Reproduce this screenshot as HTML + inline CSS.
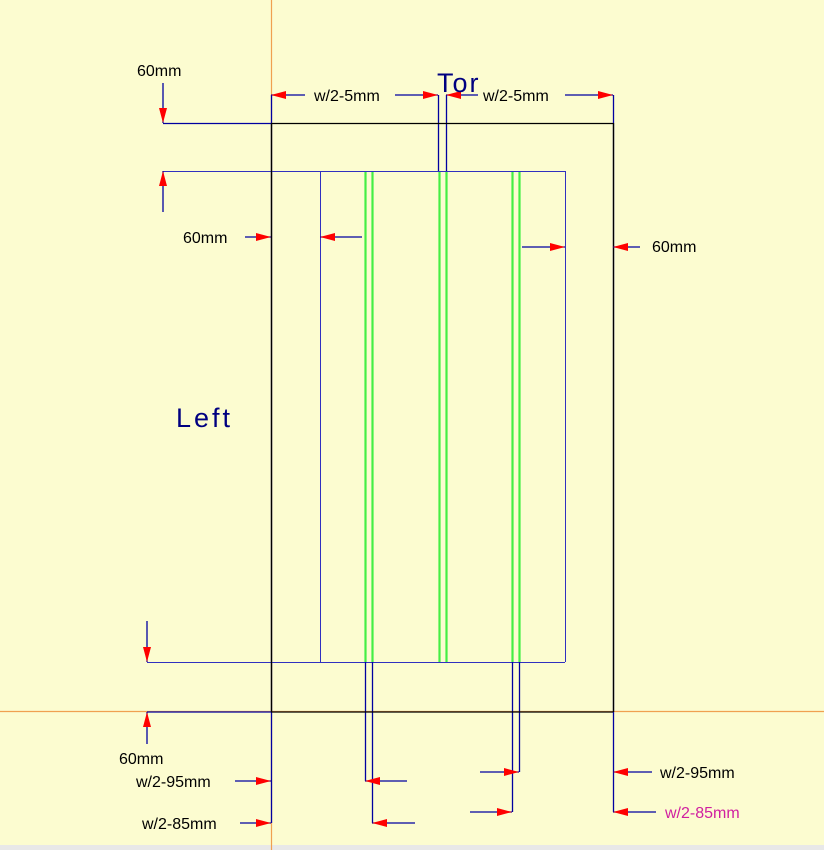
<!DOCTYPE html>
<html><head><meta charset="utf-8"><style>
html,body{margin:0;padding:0;background:#fcfcd0;}
svg{display:block;}
text{font-family:"Liberation Sans",sans-serif;font-size:16px;fill:#000;}
</style></head><body>
<svg width="824" height="850" viewBox="0 0 824 850" xmlns="http://www.w3.org/2000/svg">
<defs>
<marker id="a" markerWidth="16" markerHeight="10" refX="15" refY="5" orient="auto" markerUnits="userSpaceOnUse">
<polygon points="0,1 15,5 0,9" fill="#ff0000"/></marker>
</defs>
<rect width="824" height="850" fill="#fcfcd0"/>
<rect y="845" width="824" height="5" fill="#e8e8e8"/>
<line x1="271.5" y1="0" x2="271.5" y2="850" stroke="#f0a050" stroke-width="1.2"/>
<line x1="0" y1="711.5" x2="824" y2="711.5" stroke="#f0a050" stroke-width="1.2"/>
<g stroke="#0000a0" stroke-width="1.3" fill="none">
<line x1="271.5" y1="95" x2="271.5" y2="823"/>
<line x1="163" y1="123.5" x2="271" y2="123.5"/>
<line x1="613.5" y1="95" x2="613.5" y2="812"/>
<line x1="163" y1="171.5" x2="565" y2="171.5" stroke="#3030c0" stroke-width="1"/>
<line x1="147" y1="662.5" x2="565" y2="662.5" stroke="#3030c0" stroke-width="1"/>
<line x1="320.5" y1="171" x2="320.5" y2="662" stroke="#3030c0" stroke-width="1"/>
<line x1="565.5" y1="171" x2="565.5" y2="662" stroke="#3030c0" stroke-width="1"/>
<line x1="147" y1="712" x2="271" y2="712"/>
<line x1="438.5" y1="95" x2="438.5" y2="171"/>
<line x1="446.5" y1="95" x2="446.5" y2="171"/>
<line x1="365.5" y1="662" x2="365.5" y2="781"/>
<line x1="372.5" y1="662" x2="372.5" y2="823"/>
<line x1="519.5" y1="662" x2="519.5" y2="772"/>
<line x1="512.5" y1="662" x2="512.5" y2="812"/>
</g>
<g stroke="#000" stroke-width="1.3">
<line x1="271" y1="123.5" x2="613" y2="123.5"/>
<line x1="271" y1="712" x2="613" y2="712"/>
<line x1="271.5" y1="123" x2="271.5" y2="712"/>
<line x1="613.5" y1="123" x2="613.5" y2="712"/>
</g>
<g stroke="#44ee44" stroke-width="2.2">
<line x1="365.5" y1="172" x2="365.5" y2="662"/>
<line x1="372.5" y1="172" x2="372.5" y2="662"/>
<line x1="439.5" y1="172" x2="439.5" y2="662"/>
<line x1="446.5" y1="172" x2="446.5" y2="662"/>
<line x1="512.5" y1="172" x2="512.5" y2="662"/>
<line x1="519.5" y1="172" x2="519.5" y2="662"/>
</g>
<g stroke="#0000a0" stroke-width="1.3" marker-end="url(#a)">
<line x1="305" y1="95" x2="271" y2="95"/>
<line x1="395" y1="95" x2="438" y2="95"/>
<line x1="478" y1="95" x2="446" y2="95"/>
<line x1="565" y1="95" x2="613" y2="95"/>
<line x1="163" y1="83" x2="163" y2="123"/>
<line x1="163" y1="212" x2="163" y2="171"/>
<line x1="245" y1="237" x2="271" y2="237"/>
<line x1="362" y1="237" x2="320" y2="237"/>
<line x1="522" y1="247" x2="565" y2="247"/>
<line x1="640" y1="247" x2="613" y2="247"/>
<line x1="147" y1="621" x2="147" y2="662"/>
<line x1="147" y1="744" x2="147" y2="712"/>
<line x1="235" y1="781" x2="271" y2="781"/>
<line x1="240" y1="823" x2="271" y2="823"/>
<line x1="407" y1="781" x2="365" y2="781"/>
<line x1="415" y1="823" x2="372" y2="823"/>
<line x1="480" y1="772" x2="519" y2="772"/>
<line x1="470" y1="812" x2="512" y2="812"/>
<line x1="652" y1="772" x2="613" y2="772"/>
<line x1="656" y1="812" x2="613" y2="812"/>
</g>
<text x="137" y="76">60mm</text>
<text x="314" y="101">w/2-5mm</text>
<text x="483" y="101">w/2-5mm</text>
<text x="437" y="92" style="font-size:27px;fill:#000080;letter-spacing:2px">Tor</text>
<text x="183" y="243">60mm</text>
<text x="652" y="252">60mm</text>
<text x="176" y="427" style="font-size:27px;fill:#000080;letter-spacing:3px">Left</text>
<text x="119" y="764">60mm</text>
<text x="136" y="787">w/2-95mm</text>
<text x="142" y="829">w/2-85mm</text>
<text x="660" y="778">w/2-95mm</text>
<text x="665" y="818" style="fill:#d020a0">w/2-85mm</text>
</svg>
</body></html>
